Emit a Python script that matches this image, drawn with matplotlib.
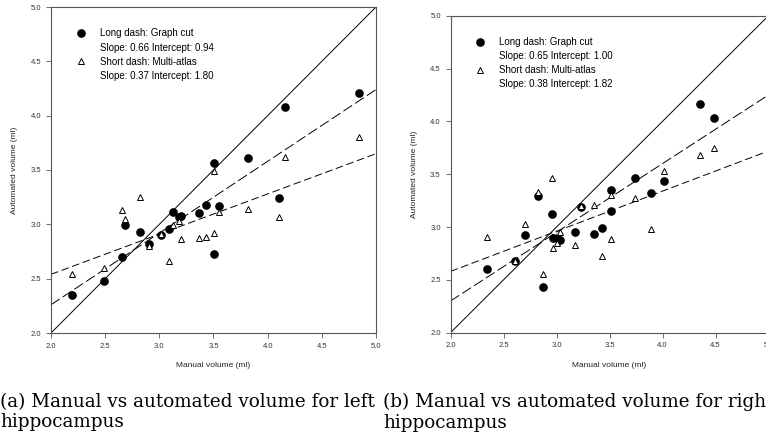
import numpy as np
import matplotlib
matplotlib.use("Agg")
import matplotlib.pyplot as plt
from matplotlib.lines import Line2D

# left hippocampus (manual x shared by both methods)
left_manual = [2.19, 2.49, 2.655, 2.686, 2.824, 2.907, 3.014, 3.088, 3.125, 3.18,
               3.196, 3.362, 3.432, 3.509, 3.552, 4.109, 3.509, 3.823, 4.164, 4.84]
left_gc = [2.35, 2.48, 2.695, 2.99, 2.933, 2.817, 2.902, 2.954, 3.113, 3.067,
           3.08, 3.104, 3.174, 2.73, 3.165, 3.24, 3.56, 3.61, 4.08, 4.21]
left_ma = [2.545, 2.60, 3.128, 3.046, 3.253, 2.80, 2.915, 2.66, 2.99, 3.03,
           2.863, 2.872, 2.887, 2.918, 3.116, 3.07, 3.49, 3.137, 3.62, 3.80]

# right hippocampus
right_manual = [2.34, 2.605, 2.706, 2.83, 2.876, 2.954, 2.97, 3.0, 3.03, 3.175,
                3.228, 3.354, 3.43, 3.512, 3.512, 3.739, 3.893, 4.016, 4.35, 4.482]
right_gc = [2.606, 2.678, 2.924, 3.293, 2.435, 3.12, 2.90, 2.896, 2.874, 2.953,
            3.19, 2.934, 2.994, 3.347, 3.155, 3.462, 3.319, 3.434, 4.167, 4.028]
right_ma = [2.902, 2.678, 3.025, 3.334, 2.558, 3.46, 2.80, 2.845, 2.956, 2.826,
            3.20, 3.208, 2.722, 3.30, 2.886, 3.278, 2.98, 3.535, 3.679, 3.75]

# regression lines from the legends: (slope, intercept)
left_fit = {"gc": (0.66, 0.94), "ma": (0.37, 1.80)}
right_fit = {"gc": (0.65, 1.00), "ma": (0.38, 1.82)}

ticks = [2.0, 2.5, 3.0, 3.5, 4.0, 4.5, 5.0]
captions = ["(a) Manual vs automated volume for left\nhippocampus",
            "(b) Manual vs automated volume for right\nhippocampus"]

plt.rcParams["lines.scale_dashes"] = False
sans = "Liberation Sans"
grey = "#555555"

W, H = 766, 441
fig = plt.figure(figsize=(W / 100, H / 100), dpi=100)
ax_l = fig.add_axes([51 / W, 1 - 333 / H, 325 / W, 326 / H])
ax_r = fig.add_axes([450.5 / W, 1 - 332.7 / H, 318 / W, 317 / H])


def draw(ax, manual, gc, ma, fit):
    xs = np.array([2.0, 5.0])
    ax.plot(xs, xs, color="black", lw=0.7)
    s, b = fit["gc"]
    ax.plot(xs, s * xs + b, color="black", lw=0.7, dashes=(7.5, 2.6))
    s, b = fit["ma"]
    ax.plot(xs, s * xs + b, color="black", lw=0.7, dashes=(5.5, 2.6))
    ax.plot(manual, gc, "o", color="black", ms=5.2, mec="black")
    ax.plot(manual, ma, "^", color="black", mfc="white", ms=4.8, mew=0.7)

    ax.set_xlim(2, 5)
    ax.set_ylim(2, 5)
    ax.set_xticks(ticks)
    ax.set_yticks(ticks)
    ax.set_xticklabels([f"{t:.1f}" for t in ticks], fontfamily=sans, fontsize=5.5, color="#333333")
    ax.set_yticklabels([f"{t:.1f}" for t in ticks], fontfamily=sans, fontsize=5.5, color="#333333")
    ax.tick_params(direction="out", length=3.5, width=0.6, color=grey, pad=3.5)
    for sp in ax.spines.values():
        sp.set_color(grey)
        sp.set_linewidth(0.8)
    ax.set_xlabel("Manual volume (ml)", fontfamily=sans, fontsize=6, color="#222222", labelpad=9)
    ax.set_ylabel("Automated volume (ml)", fontfamily=sans, fontsize=6, color="#222222", labelpad=9)

    blank = Line2D([], [], linestyle="none")
    handles = [Line2D([], [], marker="o", color="black", linestyle="none", ms=5.2),
               blank,
               Line2D([], [], marker="^", color="black", mfc="white", linestyle="none", ms=4.5, mew=0.7),
               blank]
    labels = ["Long dash: Graph cut",
              f"Slope: {fit['gc'][0]:.2f} Intercept: {fit['gc'][1]:.2f}",
              "Short dash: Multi-atlas",
              f"Slope: {fit['ma'][0]:.2f} Intercept: {fit['ma'][1]:.2f}"]
    top = 1 - 21.5 / (ax.get_position().height * H)
    left = 25 / (ax.get_position().width * W)
    ax.legend(handles, labels, loc="upper left", bbox_to_anchor=(left, top),
              frameon=False, borderpad=0, borderaxespad=0, handlelength=1.0,
              handletextpad=1.45, labelspacing=0.42,
              prop={"family": sans, "size": 7})


draw(ax_l, left_manual, left_gc, left_ma, left_fit)
draw(ax_r, right_manual, right_gc, right_ma, right_fit)

for x0, cap in zip([0, 383], captions):
    fig.text(x0 / W, 1 - 412 / H, cap, fontfamily="DejaVu Serif", fontsize=13.2,
             va="center", ha="left", linespacing=1.2)

fig.savefig("out.png", dpi=100)
